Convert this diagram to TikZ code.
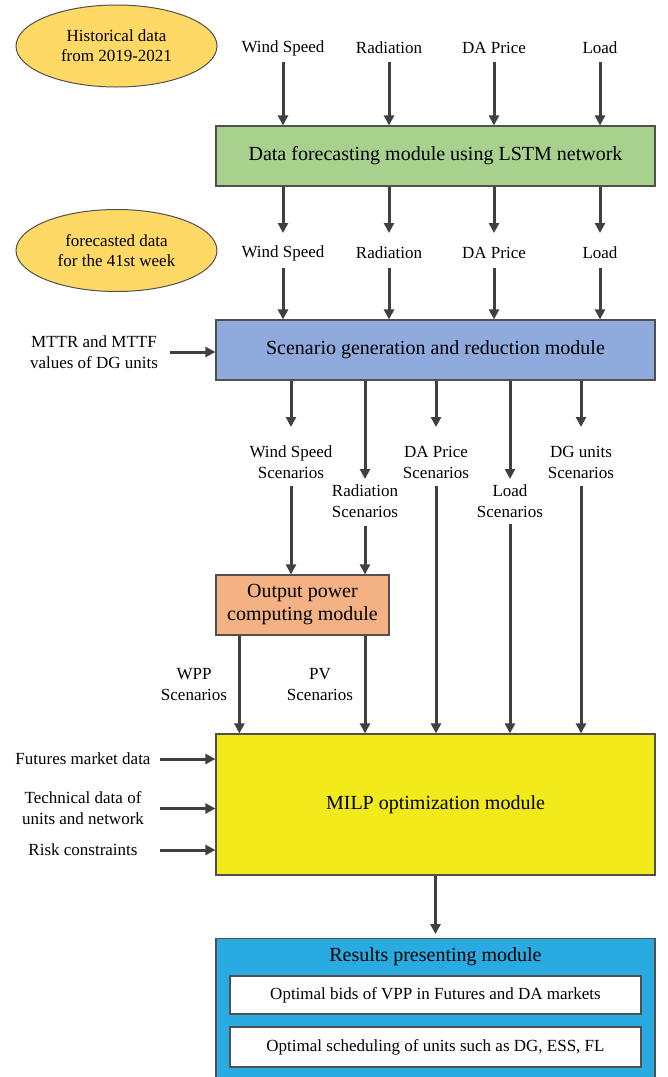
\documentclass[tikz,border=0pt]{standalone}
\usepackage{fontspec}
\setmainfont{Liberation Serif}
\usetikzlibrary{arrows.meta,shapes.geometric,calc}
\definecolor{bordc}{HTML}{505050}
\definecolor{arrc}{HTML}{404040}
\definecolor{goldc}{HTML}{FFD966}
\definecolor{greenc}{HTML}{A9D18E}
\definecolor{bluec}{HTML}{8FAADC}
\definecolor{orangec}{HTML}{F4B183}
\definecolor{yellowc}{HTML}{F2EA1A}
\definecolor{resc}{HTML}{29ABE2}
\begin{document}
\begin{tikzpicture}[x=1pt,y=-1pt,
  lab/.style={font=\fontsize{17}{21}\selectfont, align=center, inner sep=0pt},
  ttl/.style={font=\fontsize{20}{23}\selectfont, align=center},
  modbox/.style={draw=bordc, line width=1.2pt, inner sep=0pt, minimum width=439pt, minimum height=60pt, font=\fontsize{20}{23}\selectfont, align=center},
  ell/.style={ellipse, draw=bordc, line width=1pt, fill=goldc, minimum width=201pt, minimum height=82pt, inner sep=0pt, align=center, font=\fontsize{17}{20}\selectfont},
  inbox/.style={draw=bordc, fill=white, line width=1.2pt, minimum width=411pt, minimum height=38pt, inner sep=0pt, font=\fontsize{17}{21}\selectfont},
  arr/.style={draw=arrc, line width=3pt, -{Triangle[width=10pt,length=10pt]}}
]
\useasboundingbox (0,0) rectangle (668,1077);
\clip (0,0) rectangle (668,1077);
\fill[white] (0,0) rectangle (668,1077);

% ellipses
\node[ell] (hist) at (116.5,46) {Historical data\\from 2019-2021};
\node[ell] (fore) at (116.5,250.5) {forecasted data\\for the 41st week};

% top row labels
\node[lab] (ws1) at (283,48) {Wind Speed};
\node[lab] (rad1) at (389,48) {Radiation};
\node[lab] (da1) at (494,48) {DA Price};
\node[lab] (ld1) at (600,48) {Load};

\node[modbox, fill=greenc] (lstm) at (435.5,156) {Data forecasting module using LSTM network};

\node[lab] (ws2) at (283,253) {Wind Speed};
\node[lab] (rad2) at (389,253) {Radiation};
\node[lab] (da2) at (494,253) {DA Price};
\node[lab] (ld2) at (600,253) {Load};

\node[modbox, fill=bluec] (scen) at (435.5,350) {Scenario generation and reduction module};
\node[lab, minimum width=152pt] (mttr) at (94,352) {MTTR and MTTF\\values of DG units};

% scenario labels
\node[lab] (wss) at (291,462) {Wind Speed\\Scenarios};
\node[lab] (rads) at (365,501.5) {Radiation\\Scenarios};
\node[lab] (das) at (436,462) {DA Price\\Scenarios};
\node[lab] (lds) at (510,501.5) {Load\\Scenarios};
\node[lab] (dgs) at (581,462) {DG units\\Scenarios};

\node[modbox, fill=orangec, minimum width=173pt] (opc) at (302.5,605) {Output power\\computing module};
\node[lab] (wpp) at (194,685) {WPP\\Scenarios};
\node[lab] (pv) at (320,685) {PV\\Scenarios};

\node[modbox, fill=yellowc, minimum height=141pt] (milp) at (435.5,804.5) {MILP optimization module};
\node[lab, minimum width=154pt] (fut) at (83,759) {Futures market data};
\node[lab, minimum width=154pt] (tech) at (83,808.5) {Technical data of\\units and network};
\node[lab, minimum width=154pt] (risk) at (83,850) {Risk constraints};

\node[modbox, fill=resc, minimum height=170pt, anchor=north] (res) at (435.5,938) {};
\node[ttl] (restitle) at (435.5,957) {Results presenting module};
\node[inbox] (b1) at (435.5,995) {Optimal bids of VPP in Futures and DA markets};
\node[inbox, minimum height=40pt] (b2) at (435.5,1047) {Optimal scheduling of units such as DG, ESS, FL};

% arrows
\foreach \n in {ws1,rad1,da1,ld1}
  \draw[arr] ([yshift=-14pt]\n.center) -- (\n |- lstm.north);
\foreach \n in {ws2,rad2,da2,ld2}{
  \draw[arr] (\n |- lstm.south) -- ([yshift=20pt]\n.center);
  \draw[arr] ([yshift=-15pt]\n.center) -- (\n |- scen.north);
}
\draw[arr] (wss |- scen.south) -- ([yshift=35pt]wss.center);
\draw[arr] ([yshift=-24pt]wss.center) -- (wss |- opc.north);
\draw[arr] (rads |- scen.south) -- ([yshift=22.5pt]rads.center);
\draw[arr] ([yshift=-24.5pt]rads.center) -- (rads |- opc.north);
\draw[arr] (das |- scen.south) -- ([yshift=35pt]das.center);
\draw[arr] ([yshift=-24pt]das.center) -- (das |- milp.north);
\draw[arr] (lds |- scen.south) -- ([yshift=22.5pt]lds.center);
\draw[arr] ([yshift=-22.5pt]lds.center) -- (lds |- milp.north);
\draw[arr] (dgs |- scen.south) -- ([yshift=35pt]dgs.center);
\draw[arr] ([yshift=-24pt]dgs.center) -- (dgs |- milp.north);

\draw[arr] ([xshift=24pt]opc.south west) -- ([xshift=24pt]opc.south west |- milp.north);
\draw[arr] (rads |- opc.south) -- (rads |- milp.north);

\draw[arr] (mttr.east) -- (mttr.east -| scen.west);
\draw[arr] (fut.east) -- (fut.east -| milp.west);
\draw[arr] (tech.east) -- (tech.east -| milp.west);
\draw[arr] (risk.east) -- (risk.east -| milp.west);

\draw[arr] (milp.south) -- ([yshift=4pt]res.north);
\end{tikzpicture}
\end{document}
